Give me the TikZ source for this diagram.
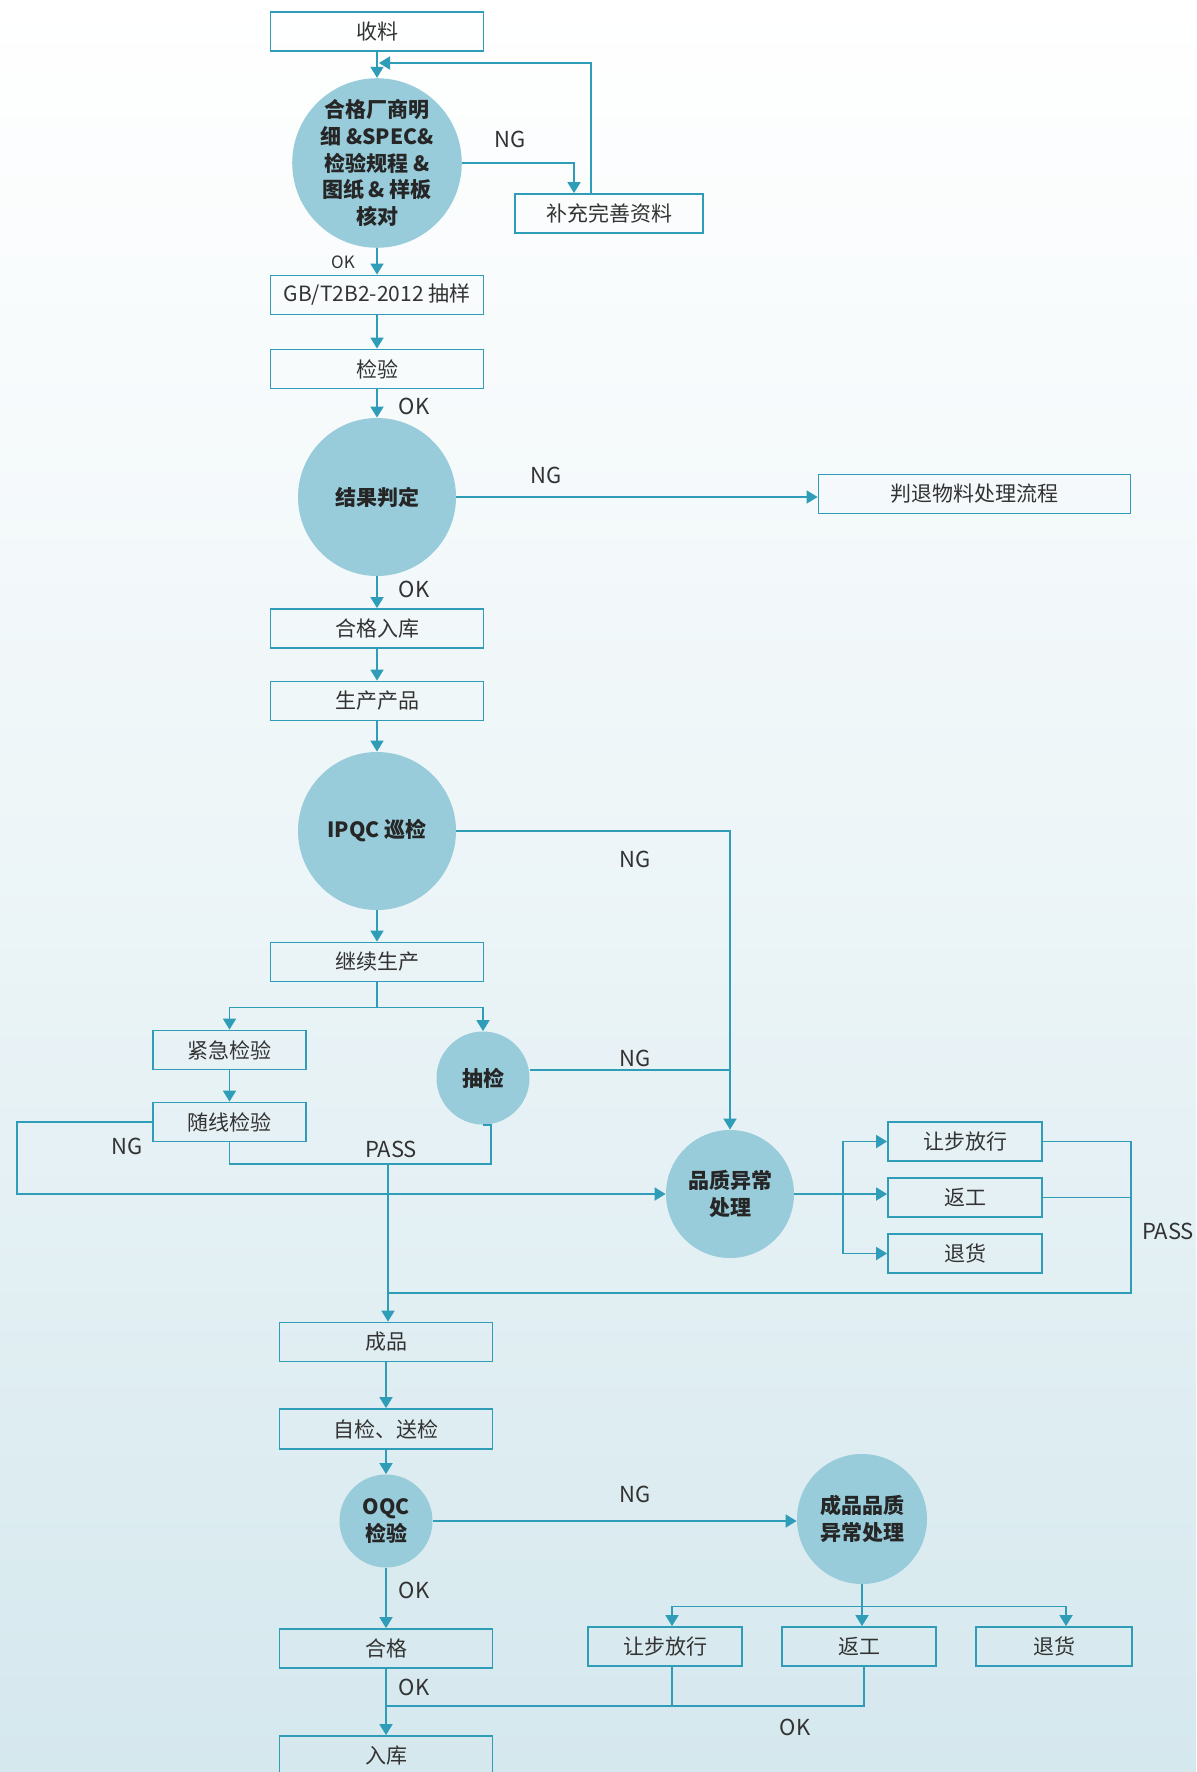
\documentclass[tikz,border=0pt]{standalone}
\usepackage{fontspec}
\setmainfont{Noto Sans CJK SC}
\usetikzlibrary{arrows.meta,calc}
\definecolor{lc}{HTML}{2F9DB8}
\definecolor{cf}{HTML}{98CCDA}
\definecolor{tx}{HTML}{333333}
\definecolor{bgb}{HTML}{D5E8EE}
\begin{document}
\begin{tikzpicture}[x=0.5pt,y=-0.5pt,
  every node/.style={text=tx},
  boxn/.style={draw=lc,line width=0.9pt,minimum width=106.5pt,minimum height=19.5pt,inner sep=0pt,font=\fontsize{10.5pt}{12pt}\selectfont},
  circn/.style={circle,fill=cf,minimum size=#1,inner sep=0pt,align=center,font=\fontsize{10.5pt}{13.3pt}\selectfont\bfseries,text=black!85},
  lbl/.style={font=\fontsize{11pt}{12pt}\selectfont},
  slbl/.style={font=\fontsize{8.5pt}{10pt}\selectfont},
  ln/.style={draw=lc,line width=0.9pt},
  arr/.style={ln,-{Triangle[length=5.5pt,width=6.5pt]}}]
\useasboundingbox (0,0) rectangle (1196,1772);
\shade[top color=white,bottom color=bgb,middle color=bgb!45] (0,0) rectangle (1196,1772);
% nodes
\node[boxn] (shou) at (377,31.5) {收料};
\node[circn=79pt] (c1) at (377,163) {合格厂商明\\细 \&SPEC\&\\检验规程 \&\\图纸 \& 样板\\核对};
\node[boxn,minimum width=94pt] (bc) at (609,213.5) {补充完善资料};
\node[boxn] (gb) at (377,295) {GB/T2B2-2012 抽样};
\node[boxn] (jy) at (377,369) {检验};
\node[circn=79pt] (c2) at (377,497) {结果判定};
\node[boxn,minimum width=156pt] (pt) at (974.5,494) {判退物料处理流程};
\node[boxn] (hg) at (377,628.5) {合格入库};
\node[boxn] (sc) at (377,701) {生产产品};
\node[circn=79pt] (c3) at (377,831) {IPQC 巡检};
\node[boxn] (jx) at (377,962) {继续生产};
\node[boxn,minimum width=76.5pt] (jj) at (229.5,1050) {紧急检验};
\node[boxn,minimum width=76.5pt] (sx) at (229.5,1122) {随线检验};
\node[circn=46.5pt] (cj) at (483,1078) {抽检};
\node[circn=64pt] (pz) at (730,1194) {品质异常\\处理};
\node[boxn,minimum width=77pt] (rb) at (965,1141.5) {让步放行};
\node[boxn,minimum width=77pt] (fg) at (965,1197.5) {返工};
\node[boxn,minimum width=77pt] (th) at (965,1253.5) {退货};
\node[boxn] (cp) at (386,1342) {成品};
\node[boxn,minimum height=20pt] (zj) at (386,1429) {自检、送检};
\node[circn=46.5pt] (oqc) at (386,1521) {OQC\\检验};
\node[circn=65pt] (cpz) at (862,1519) {成品品质\\异常处理};
\node[boxn,minimum width=77pt] (rb2) at (665,1646.5) {让步放行};
\node[boxn,minimum width=77pt] (fg2) at (859,1646.5) {返工};
\node[boxn,minimum width=78pt] (th2) at (1054,1646.5) {退货};
\node[boxn] (hg2) at (386,1648.5) {合格};
\node[boxn,minimum height=20pt] (rk) at (386,1756) {入库};
% coordinates
\coordinate (lp) at (591,63);
\coordinate (lpe) at (379,63);
\coordinate (nga) at (574,0);
\coordinate (pa) at (388,1164);
\coordinate (cjx) at (491,0);
\coordinate (brx) at (843,0);
\coordinate (rc) at (1131,1293);
\coordinate (jn) at (386,1706);
\coordinate (lx) at (17,0);
\coordinate (ngl) at (0,1198);
\coordinate (b1x) at (672,0);
\coordinate (b2x) at (1066,0);
\coordinate (b3x) at (864,0);
% connectors
\draw[arr] (shou) -- (c1);
\draw[arr] (bc.north -| lp) -- (lp) -- (lpe);
\draw[arr] (c1.east) -| (bc.north -| nga);
\draw[arr] (c1) -- (gb);
\draw[arr] (gb) -- (jy);
\draw[arr] (jy) -- (c2);
\draw[arr] (c2.east) -- (c2.east -| pt.west);
\draw[arr] (c2) -- (hg);
\draw[arr] (hg) -- (sc);
\draw[arr] (sc) -- (c3);
\draw[arr] (c3) -- (jx);
\draw[arr] (c3.east) -| (pz.north);
\draw[arr] (jx.south) -- ++(0,25) -| (jj.north);
\draw[arr] (jx.south) -- ++(0,25) -| (cj.north);
\draw[arr] (jj) -- (sx);
\draw[ln] ($(cj.east)+(0,-8)$) -- ($(cj.east -| pz.north)+(0,-8)$);
\draw[arr] (sx.west) -- (sx.west -| lx) |- (pz.west);
\draw[ln] (sx.south) |- (pa) -| (cj.south -| cjx) -- (cj.south);
\draw[arr] (pa) -- (pa |- cp.north);
\draw[arr] (pz.east) -- (pz.east -| fg.west);
\draw[arr] (pz.east -| brx) |- (rb.west);
\draw[arr] (pz.east -| brx) |- (th.west);
\draw[ln] (rb.east) -| (rc) -- (rc -| pa);
\draw[ln] (fg.east) -- (fg.east -| rc);
\draw[arr] (cp) -- (zj);
\draw[arr] (zj) -- (oqc);
\draw[arr] (oqc) -- (hg2);
\draw[arr] (oqc.east) -- (oqc.east -| cpz.west);
\draw[arr] (cpz.south) -- ++(0,22) -| (rb2.north -| b1x);
\draw[arr] (cpz.south) -- ++(0,22) -| (th2.north -| b2x);
\draw[arr] (cpz.south) -- (cpz.south |- fg2.north);
\draw[arr] (hg2) -- (rk);
\draw[ln] (fg2.south -| b3x) |- (jn);
\draw[ln] (rb2.south -| b1x) -- (b1x |- jn);
% labels
\node[lbl] (l1) at (510,139) {NG};
\node[slbl] (l2) at (343,262) {OK};
\node[lbl] (l3) at (414,406) {OK};
\node[lbl] (l4) at (546,475) {NG};
\node[lbl] (l5) at (414,589) {OK};
\node[lbl] (l6) at (635,859) {NG};
\node[lbl] (l7) at (635,1058) {NG};
\node[lbl] (l8) at (127,1146) {NG};
\node[lbl] (l9) at (391,1149) {PASS};
\node[lbl] (l10) at (1168,1231) {PASS};
\node[lbl] (l11) at (635,1494) {NG};
\node[lbl] (l12) at (414,1590) {OK};
\node[lbl] (l13) at (414,1687) {OK};
\node[lbl] (l14) at (795,1727) {OK};
\end{tikzpicture}
\end{document}
